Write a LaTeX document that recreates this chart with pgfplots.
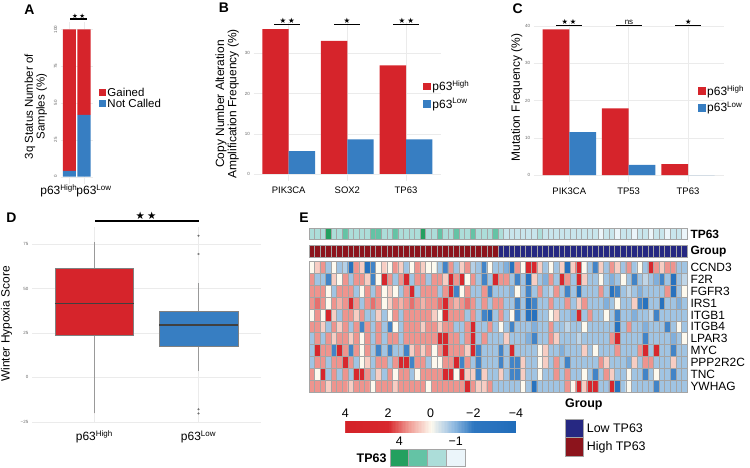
\documentclass[border=0pt]{standalone}
\usepackage{pgfplots}
\pgfplotsset{compat=1.18}
\usepgfplotslibrary{statistics}
\usepackage{fontspec}
\setmainfont{Liberation Sans}
\newfontfamily\symf{DejaVu Sans}
\definecolor{cRed}{RGB}{214,36,43}
\definecolor{cBlue}{RGB}{55,126,194}
\definecolor{gRed}{RGB}{140,20,28}
\definecolor{gBlue}{RGB}{38,40,130}
\definecolor{t0}{RGB}{235,245,250}
\definecolor{t1}{RGB}{200,229,236}
\definecolor{t2}{RGB}{172,221,217}
\definecolor{t3}{RGB}{100,195,165}
\definecolor{t4}{RGB}{35,160,95}
\definecolor{cellgrid}{RGB}{165,165,165}
\newcommand{\fs}[1]{\fontsize{#1}{#1}\selectfont}
\pgfplotsset{
  panel/.style={scale only axis, anchor=south west, axis line style={draw=none},
    major tick length=0pt, grid=major, grid style={black!8, line width=0.4pt},
    yticklabel style={font=\fs{4.5}, text=black!60},
    xticklabel style={font=\fs{9.5}, yshift=-2bp},
    /pgf/number format/assume math mode=true, clip=false,
    legend cell align=left},
  hrow/.style={scale only axis, anchor=south west, width=378bp,
    xmin=-0.5, xmax=67.5, xtick={-0.5,0.5,...,67.5}, xticklabels={}, ytick=\empty,
    major tick length=0pt, xmajorgrids, grid style={cellgrid, line width=0.6bp},
    axis line style={cellgrid, line width=0.6bp}, axis on top,
    yticklabel pos=right,
    extra y tick style={major tick length=0pt, yticklabel style={font=\bfseries\fs{12}}}},
}
\begin{document}
\begin{tikzpicture}
\path[use as bounding box] (0,0) rectangle (750bp,468bp);

% ---------------- Panel A ----------------
\begin{axis}[panel, at={(60.6bp,283.9bp)}, width=32.2bp, height=162.2bp,
  xmin=0.4, xmax=2.6, ymin=-5, ymax=105, xtick={1,2}, xticklabels={},
  ytick={0,25,50,75,100}, yticklabel style={rotate=90, anchor=south},
  ybar stacked, bar width=0.9, reverse legend,
  legend style={draw=none, fill=none, inner sep=0pt, outer sep=0pt, row sep=1.4bp, column sep=1.5bp,
    font=\fs{11.5}, at={(axis description cs:1.183,0.5968)}, anchor=north west,
    nodes={inner sep=0pt, text height=9bp, text depth=1bp}}]
\addplot[fill=cBlue, draw=none, legend image code/.code={\fill[cBlue] (0bp,-3.65bp) rectangle (7.3bp,3.65bp);}] coordinates {(1,4) (2,42)};
\addlegendentry{Not Called}
\addplot[fill=cRed, draw=none, legend image code/.code={\fill[cRed] (0bp,-3.65bp) rectangle (7.3bp,3.65bp);}] coordinates {(1,96) (2,58)};
\addlegendentry{Gained}
\end{axis}
\node[rotate=90, align=center, inner sep=0pt, font=\fontsize{11.5}{10.5}\selectfont] at (35.8bp,361.3bp) {3q Status Number of\\Samples (\%)};
\node[font=\fs{12}] at (58.8bp,277bp) {p63\textsuperscript{High}};
\node[font=\fs{12}] at (94bp,277bp) {p63\textsuperscript{Low}};
\draw[line width=1.2bp] (70bp,449bp) -- (87.3bp,449bp);
\node[font=\symf\fs{6.5}, anchor=base, inner sep=0pt] at (78.7bp,449.9bp) {★\hspace{1.5bp}★};

% ---------------- Panel B ----------------
\begin{axis}[panel, at={(253.5bp,286.8bp)}, width=187.7bp, height=159.2bp,
  xmin=0.4, xmax=3.6, ymin=-1.8, ymax=37.8, xtick={1,2,3}, xticklabels={PIK3CA,SOX2,TP63},
  ytick={0,10,20,30},
  legend style={draw=none, fill=none, inner sep=0pt, outer sep=0pt, row sep=6bp, column sep=1.5bp,
    font=\fs{12}, at={(axis description cs:0.9046,0.6322)}, anchor=north west,
    nodes={inner sep=0pt, text height=10bp, text depth=1.5bp}}]
\addplot[ybar, bar width=0.45, bar shift=-0.225, fill=cRed, draw=none, legend image code/.code={\fill[cRed] (0bp,-3.8bp) rectangle (7.7bp,3.8bp);}] coordinates {(1,36.0) (2,33.1) (3,27.0)};
\addlegendentry{p63\textsuperscript{High}}
\addplot[ybar, bar width=0.45, bar shift=0.225, fill=cBlue, draw=none, legend image code/.code={\fill[cBlue] (0bp,-3.8bp) rectangle (7.7bp,3.8bp);}] coordinates {(1,5.7) (2,8.6) (3,8.6)};
\addlegendentry{p63\textsuperscript{Low}}
\end{axis}
\node[rotate=90, align=center, inner sep=0pt, font=\fontsize{12}{11}\selectfont] at (227.2bp,364bp) {Copy Number Alteration\\Amplification Frequency (\%)};
\draw[line width=1.2bp] (274.3bp,443.7bp) -- (300bp,443.7bp);
\draw[line width=1.2bp] (334bp,443.7bp) -- (360bp,443.7bp);
\draw[line width=1.2bp] (393.3bp,443.7bp) -- (419.3bp,443.7bp);
\node[font=\symf\fs{7.5}, anchor=base, inner sep=0pt] at (287.2bp,444.8bp) {★\hspace{2bp}★};
\node[font=\symf\fs{7.5}, anchor=base, inner sep=0pt] at (347bp,444.8bp) {★};
\node[font=\symf\fs{7.5}, anchor=base, inner sep=0pt] at (406.3bp,444.8bp) {★\hspace{2bp}★};

% ---------------- Panel C ----------------
\begin{axis}[panel, at={(533.7bp,285.7bp)}, width=189.9bp, height=160bp,
  xmin=0.4, xmax=3.6, ymin=-1.95, ymax=41, xtick={1,2,3}, xticklabels={PIK3CA,TP53,TP63},
  ytick={0,10,20,30,40},
  legend style={draw=none, fill=none, inner sep=0pt, outer sep=0pt, row sep=5bp, column sep=1.5bp,
    font=\fs{12}, at={(axis description cs:0.8668,0.6053)}, anchor=north west,
    nodes={inner sep=0pt, text height=10bp, text depth=1.5bp}}]
\addplot[ybar, bar width=0.45, bar shift=-0.225, fill=cRed, draw=none, legend image code/.code={\fill[cRed] (0bp,-3.8bp) rectangle (7.4bp,3.8bp);}] coordinates {(1,39.1) (2,17.9) (3,2.9)};
\addlegendentry{p63\textsuperscript{High}}
\addplot[ybar, bar width=0.45, bar shift=0.225, fill=cBlue, draw=none, legend image code/.code={\fill[cBlue] (0bp,-3.8bp) rectangle (7.4bp,3.8bp);}] coordinates {(1,11.5) (2,2.7) (3,0)};
\addlegendentry{p63\textsuperscript{Low}}
\end{axis}
\node[rotate=90, inner sep=0pt, font=\fs{12}] at (516.7bp,370.5bp) {Mutation Frequency (\%)};
\draw[line width=1.2bp] (556bp,442.3bp) -- (582bp,442.3bp);
\draw[line width=1.2bp] (616bp,442.3bp) -- (642bp,442.3bp);
\draw[line width=1.2bp] (675.3bp,442.3bp) -- (701.3bp,442.3bp);
\node[font=\symf\fs{7.2}, anchor=base, inner sep=0pt] at (569bp,443.5bp) {★\hspace{2bp}★};
\node[font=\fs{8}, anchor=base, inner sep=0pt] at (629bp,443.3bp) {ns};
\node[font=\symf\fs{7.2}, anchor=base, inner sep=0pt] at (688.3bp,443.5bp) {★};

% ---------------- Panel D ----------------
\begin{axis}[panel, at={(31.8bp,45.7bp)}, width=229.2bp, height=195.5bp,
  xmin=0.4, xmax=2.6, ymin=-25.3, ymax=84.7, xtick={1,2},
  xticklabels={p63\textsuperscript{High},p63\textsuperscript{Low}},
  xticklabel style={font=\fs{12}, yshift=-3bp},
  ytick={-25,0,25,50,75}, yticklabels={−25,0,25,50,75}]
\addplot[fill=cRed, draw=black!50, line width=0.5bp,
  boxplot prepared={draw direction=y, draw position=1, lower whisker=-20.3, lower quartile=23.6, median=41.6,
    upper quartile=61.3, upper whisker=76, box extend=0.755, whisker extend=0,
    every median/.style={draw=black!75, line width=1.2bp},
    every whisker/.style={draw=black!40}}] coordinates {};
\addplot[fill=cBlue, draw=black!50, line width=0.5bp, mark=*, mark size=0.8bp,
  mark options={fill=black!85, draw=none},
  boxplot prepared={draw direction=y, draw position=2, lower whisker=3.5, lower quartile=17.6, median=29.4,
    upper quartile=37.3, upper whisker=53.2, box extend=0.755, whisker extend=0,
    every median/.style={draw=black!75, line width=1.2bp},
    every whisker/.style={draw=black!40}}]
  table[row sep=\\, y index=0] {y\\ 79.7\\ 69.4\\ -18\\ -20.3\\};
\end{axis}
\node[rotate=90, inner sep=0pt, font=\fs{12}] at (6.5bp,144bp) {Winter Hypoxia Score};
\draw[line width=1.8bp] (95bp,247bp) -- (198.5bp,247bp);
\node[font=\symf\fs{10.4}, anchor=base, inner sep=0pt] at (146bp,248.3bp) {★\hspace{2.3bp}★};

% ---------------- Panel E ----------------
% TP63 annotation row
\begin{axis}[hrow, at={(309bp,228.3bp)}, height=11bp, ymin=0, ymax=1,
  extra y ticks={0.5}, extra y tick labels={TP63}]
\addplot[ybar, bar width=1, bar shift=0, fill=t4, draw=none] coordinates {(3,1) (20,1)};
\addplot[ybar, bar width=1, bar shift=0, fill=t3, draw=none] coordinates {(6,1) (11,1) (12,1) (15,1) (23,1) (26,1) (29,1) (33,1)};
\addplot[ybar, bar width=1, bar shift=0, fill=t2, draw=none] coordinates {(0,1) (1,1) (2,1) (4,1) (5,1) (7,1) (8,1) (9,1) (10,1) (13,1) (14,1) (16,1) (17,1) (18,1) (19,1) (21,1) (22,1) (24,1) (25,1) (27,1) (28,1) (30,1) (31,1) (32,1) (34,1) (41,1)};
\addplot[ybar, bar width=1, bar shift=0, fill=t1, draw=none] coordinates {(35,1) (36,1) (37,1) (38,1) (39,1) (40,1) (42,1) (43,1) (44,1) (45,1) (46,1) (47,1) (48,1) (49,1) (50,1) (51,1) (53,1) (54,1) (56,1) (57,1) (59,1) (60,1) (62,1) (63,1) (65,1) (66,1)};
\addplot[ybar, bar width=1, bar shift=0, fill=t0, draw=none] coordinates {(52,1) (55,1) (58,1) (61,1) (64,1) (67,1)};
\end{axis}
% Group annotation row
\begin{axis}[hrow, at={(309bp,210.7bp)}, height=12bp, ymin=0, ymax=1,
  extra y ticks={0.5}, extra y tick labels={Group}]
\addplot[fill=gRed, draw=none] coordinates {(-0.5,1) (33.5,1)} \closedcycle;
\addplot[fill=gBlue, draw=none] coordinates {(33.5,1) (67.5,1)} \closedcycle;
\end{axis}
% main heatmap
\begin{axis}[scale only axis, anchor=south west, at={(309bp,75.7bp)}, width=378bp, height=131bp,
  xmin=-0.5, xmax=67.5, ymin=-0.5, ymax=10.5, y dir=reverse,
  xtick={-0.5,0.5,...,67.5}, ytick={-0.5,0.5,...,10.5}, xticklabels={}, yticklabels={},
  grid=major, grid style={cellgrid, line width=0.6bp}, major tick length=0pt,
  axis line style={cellgrid, line width=0.6bp}, axis on top,
  extra y ticks={0,1,2,3,4,5,6,7,8,9,10},
  extra y tick labels={CCND3,F2R,FGFR3,IRS1,ITGB1,ITGB4,LPAR3,MYC,PPP2R2C,TNC,YWHAG},
  extra y tick style={grid=none, major tick length=0pt, yticklabel style={font=\fs{12}}},
  yticklabel pos=right,
  colormap={hm}{rgb255=(31,108,186) rgb255=(40,114,190) rgb255=(45,118,192) rgb255=(150,190,226) rgb255=(253,249,238) rgb255=(240,160,152) rgb255=(216,40,46) rgb255=(214,37,43) rgb255=(212,34,40)},
  point meta min=-4, point meta max=4,
  colorbar horizontal, colorbar sampled,
  colorbar style={at={(parent axis.south west)}, anchor=north west, xshift=36.3bp, yshift=-20bp,
     scale only axis, width=170.7bp, height=12bp, x dir=reverse, samples=120,
     xtick={-4,-2,0,2,4}, xticklabels={−4,−2,0,2,4}, xticklabel pos=upper,
     xticklabel style={font=\fs{12.5}}, major tick length=0pt, axis line style={draw=none}, ytick=\empty}]
\addplot[matrix plot*, mesh/cols=68, point meta=explicit] table[row sep=\\, meta=c] {x y c\\
0 0 0\\1 0 0.5\\2 0 1.1\\3 0 -0.9\\4 0 0\\5 0 -0.9\\6 0 -0.7\\7 0 -3\\8 0 1.1\\9 0 0.5\\10 0 -3\\11 0 -1.8\\12 0 0\\13 0 0.5\\14 0 0\\15 0 1.1\\16 0 0.5\\17 0 -0.9\\18 0 0\\19 0 1.1\\20 0 0.5\\21 0 0\\22 0 0\\23 0 -0.9\\24 0 -1.8\\25 0 1.1\\26 0 -0.9\\27 0 0.5\\28 0 1.1\\29 0 -0.7\\30 0 -0.9\\31 0 -1.8\\32 0 0\\33 0 -0.9\\34 0 -0.9\\35 0 -1.2\\36 0 -3\\37 0 1.1\\38 0 0\\39 0 2.5\\40 0 2.5\\41 0 0.5\\42 0 -0.9\\43 0 0\\44 0 -0.9\\45 0 0.5\\46 0 -3\\47 0 0.5\\48 0 2.5\\49 0 0\\50 0 -0.9\\51 0 -1.8\\52 0 0.5\\53 0 -0.9\\54 0 1.1\\55 0 0.5\\56 0 -0.9\\57 0 1.1\\58 0 -0.9\\59 0 0\\60 0 -0.9\\61 0 2.5\\62 0 1.1\\63 0 0.5\\64 0 1.1\\65 0 1.1\\66 0 -0.9\\67 0 -0.9\\
0 1 1.1\\1 1 -0.9\\2 1 -0.9\\3 1 -1.8\\4 1 0.5\\5 1 0\\6 1 1.1\\7 1 -0.9\\8 1 1.1\\9 1 1.1\\10 1 0.5\\11 1 -1.8\\12 1 0\\13 1 2.5\\14 1 1.1\\15 1 -0.9\\16 1 1.1\\17 1 2.5\\18 1 -0.9\\19 1 1.1\\20 1 1.1\\21 1 -0.9\\22 1 1.1\\23 1 1.1\\24 1 0.5\\25 1 2.5\\26 1 1.1\\27 1 2.5\\28 1 0\\29 1 1.1\\30 1 -0.9\\31 1 -1.8\\32 1 -0.9\\33 1 2.5\\34 1 1.1\\35 1 1.1\\36 1 -0.9\\37 1 -1.8\\38 1 -0.9\\39 1 -3\\40 1 0.5\\41 1 -0.9\\42 1 -1.2\\43 1 1.1\\44 1 -0.9\\45 1 2.5\\46 1 1.1\\47 1 -0.9\\48 1 2.5\\49 1 0.5\\50 1 -0.9\\51 1 -0.9\\52 1 0\\53 1 -0.9\\54 1 -1.2\\55 1 -0.9\\56 1 0\\57 1 -0.9\\58 1 -1.8\\59 1 -0.9\\60 1 -0.6\\61 1 -0.9\\62 1 -1.2\\63 1 -1.8\\64 1 -0.9\\65 1 -3\\66 1 -0.9\\67 1 -0.6\\
0 2 1.1\\1 2 1.1\\2 2 1.1\\3 2 0\\4 2 -0.9\\5 2 1.1\\6 2 1.1\\7 2 1.1\\8 2 -0.9\\9 2 0\\10 2 1.1\\11 2 -0.9\\12 2 1.1\\13 2 0\\14 2 0.5\\15 2 0\\16 2 -0.9\\17 2 1.1\\18 2 2.5\\19 2 -0.9\\20 2 1.1\\21 2 1.1\\22 2 1.1\\23 2 -0.9\\24 2 1.1\\25 2 2.5\\26 2 -1.8\\27 2 0\\28 2 1.1\\29 2 -0.9\\30 2 -0.9\\31 2 1.1\\32 2 -1.8\\33 2 -0.9\\34 2 -0.9\\35 2 -0.9\\36 2 -1.2\\37 2 0\\38 2 -0.9\\39 2 -1.8\\40 2 -0.9\\41 2 1.1\\42 2 -0.9\\43 2 -0.6\\44 2 1.1\\45 2 -0.9\\46 2 -1.8\\47 2 -0.9\\48 2 -3\\49 2 -0.9\\50 2 -0.9\\51 2 -0.9\\52 2 1.1\\53 2 -0.9\\54 2 -3\\55 2 -1.8\\56 2 -0.9\\57 2 -0.6\\58 2 -0.9\\59 2 -1.2\\60 2 -0.9\\61 2 -0.9\\62 2 -0.9\\63 2 -0.9\\64 2 1.1\\65 2 -3\\66 2 -0.9\\67 2 0\\
0 3 1.1\\1 3 1.4\\2 3 1.1\\3 3 0\\4 3 1.1\\5 3 0.8\\6 3 1.1\\7 3 2.5\\8 3 1.1\\9 3 -0.9\\10 3 1.1\\11 3 1.4\\12 3 1.1\\13 3 0\\14 3 0.5\\15 3 1.1\\16 3 0.8\\17 3 1.1\\18 3 1.4\\19 3 1.1\\20 3 0.8\\21 3 1.1\\22 3 1.1\\23 3 1.4\\24 3 2.5\\25 3 1.1\\26 3 0.8\\27 3 1.1\\28 3 1.4\\29 3 1.1\\30 3 -0.9\\31 3 1.1\\32 3 -0.9\\33 3 1.1\\34 3 1.1\\35 3 -0.9\\36 3 -0.9\\37 3 -1.8\\38 3 -0.9\\39 3 -3\\40 3 -1.8\\41 3 -0.9\\42 3 -0.9\\43 3 1.1\\44 3 -0.9\\45 3 -0.9\\46 3 1.1\\47 3 -0.9\\48 3 0.5\\49 3 1.1\\50 3 -0.9\\51 3 -0.9\\52 3 -0.9\\53 3 -1.2\\54 3 -0.9\\55 3 0\\56 3 -0.9\\57 3 -0.9\\58 3 0.5\\59 3 -1.8\\60 3 -3\\61 3 -0.9\\62 3 -0.9\\63 3 -3\\64 3 -0.9\\65 3 -0.9\\66 3 -1.2\\67 3 -0.9\\
0 4 0\\1 4 1.1\\2 4 0\\3 4 2.5\\4 4 0.5\\5 4 -0.9\\6 4 1.1\\7 4 1.1\\8 4 0.5\\9 4 1.1\\10 4 -0.9\\11 4 -0.9\\12 4 0.5\\13 4 -0.9\\14 4 0\\15 4 1.1\\16 4 -0.9\\17 4 1.1\\18 4 1.1\\19 4 1.1\\20 4 1.1\\21 4 1.1\\22 4 0.5\\23 4 0\\24 4 2.5\\25 4 1.1\\26 4 1.1\\27 4 1.1\\28 4 -0.9\\29 4 1.1\\30 4 -0.9\\31 4 -1.8\\32 4 -3\\33 4 -0.9\\34 4 1.1\\35 4 -0.9\\36 4 0\\37 4 -1.8\\38 4 -0.9\\39 4 -3\\40 4 -3\\41 4 -0.9\\42 4 -0.9\\43 4 0\\44 4 0.5\\45 4 -0.9\\46 4 -0.9\\47 4 -1.2\\48 4 2.5\\49 4 -0.9\\50 4 1.1\\51 4 -0.9\\52 4 -0.9\\53 4 0\\54 4 -0.9\\55 4 -1.8\\56 4 -0.9\\57 4 -0.9\\58 4 -1.2\\59 4 -0.9\\60 4 -0.9\\61 4 -0.6\\62 4 -1.8\\63 4 -0.9\\64 4 -0.9\\65 4 -0.9\\66 4 -0.9\\67 4 -0.9\\
0 5 1.1\\1 5 1.1\\2 5 0.5\\3 5 -0.9\\4 5 1.1\\5 5 0.5\\6 5 1.1\\7 5 -0.9\\8 5 1.1\\9 5 -1.8\\10 5 1.1\\11 5 -0.9\\12 5 1.1\\13 5 -0.9\\14 5 -1.8\\15 5 0\\16 5 -0.9\\17 5 1.1\\18 5 1.1\\19 5 1.1\\20 5 0.5\\21 5 1.1\\22 5 1.1\\23 5 0.5\\24 5 1.1\\25 5 1.1\\26 5 -0.9\\27 5 -0.9\\28 5 1.1\\29 5 2.5\\30 5 -0.9\\31 5 -0.9\\32 5 1.1\\33 5 -0.9\\34 5 0\\35 5 -0.9\\36 5 -1.8\\37 5 -0.9\\38 5 -0.9\\39 5 -0.9\\40 5 -1.2\\41 5 -0.9\\42 5 -0.9\\43 5 1.1\\44 5 -0.9\\45 5 -0.9\\46 5 -0.6\\47 5 -0.9\\48 5 -0.9\\49 5 0\\50 5 -0.9\\51 5 -0.9\\52 5 -0.9\\53 5 -0.9\\54 5 -0.9\\55 5 -3\\56 5 -0.9\\57 5 1.1\\58 5 -0.9\\59 5 -0.9\\60 5 -1.2\\61 5 -0.9\\62 5 -0.9\\63 5 -0.9\\64 5 -1.8\\65 5 -0.9\\66 5 0\\67 5 -0.9\\
0 6 -0.9\\1 6 1.1\\2 6 -0.9\\3 6 1.1\\4 6 0.5\\5 6 1.1\\6 6 1.1\\7 6 0.5\\8 6 1.1\\9 6 0\\10 6 1.1\\11 6 -0.9\\12 6 1.1\\13 6 -0.9\\14 6 1.1\\15 6 1.1\\16 6 -0.9\\17 6 1.1\\18 6 1.1\\19 6 1.1\\20 6 1.1\\21 6 1.1\\22 6 1.1\\23 6 2.5\\24 6 2.5\\25 6 1.1\\26 6 1.1\\27 6 -0.9\\28 6 1.1\\29 6 2.5\\30 6 -0.9\\31 6 1.1\\32 6 -0.9\\33 6 -0.9\\34 6 -0.9\\35 6 0.5\\36 6 -0.9\\37 6 -0.9\\38 6 -0.9\\39 6 -1.2\\40 6 -1.8\\41 6 -0.9\\42 6 -0.9\\43 6 1.1\\44 6 0.5\\45 6 -0.9\\46 6 -0.9\\47 6 -0.9\\48 6 -0.6\\49 6 -0.9\\50 6 -0.9\\51 6 -0.9\\52 6 -0.9\\53 6 -0.9\\54 6 1.1\\55 6 2.5\\56 6 -0.9\\57 6 -0.9\\58 6 -0.9\\59 6 -0.9\\60 6 -1.8\\61 6 -0.9\\62 6 -0.9\\63 6 -0.9\\64 6 -0.9\\65 6 -1.2\\66 6 -0.9\\67 6 0\\
0 7 -0.9\\1 7 2.5\\2 7 1.1\\3 7 1.1\\4 7 -1.8\\5 7 2.5\\6 7 1.1\\7 7 -1.8\\8 7 1.1\\9 7 0\\10 7 1.1\\11 7 -0.9\\12 7 -1.8\\13 7 -0.9\\14 7 -1.8\\15 7 -0.9\\16 7 -0.9\\17 7 -1.8\\18 7 0.5\\19 7 1.1\\20 7 0.5\\21 7 1.1\\22 7 0\\23 7 1.1\\24 7 2.5\\25 7 1.1\\26 7 1.1\\27 7 1.1\\28 7 0.5\\29 7 2.5\\30 7 -1.8\\31 7 -0.9\\32 7 -0.9\\33 7 -0.9\\34 7 -1.8\\35 7 -0.9\\36 7 2.5\\37 7 -0.9\\38 7 -0.9\\39 7 -0.9\\40 7 -0.9\\41 7 0\\42 7 0.5\\43 7 -0.9\\44 7 -0.9\\45 7 -1.2\\46 7 -0.9\\47 7 -0.9\\48 7 -0.9\\49 7 0.5\\50 7 -0.9\\51 7 0\\52 7 -0.9\\53 7 -0.9\\54 7 -0.9\\55 7 1.1\\56 7 -0.9\\57 7 -0.9\\58 7 -0.9\\59 7 1.1\\60 7 2.5\\61 7 -0.9\\62 7 2.5\\63 7 -0.9\\64 7 -0.9\\65 7 -1.8\\66 7 -0.9\\67 7 -0.9\\
0 8 -0.9\\1 8 1.1\\2 8 1.1\\3 8 -0.9\\4 8 1.1\\5 8 1.1\\6 8 2.5\\7 8 1.1\\8 8 -0.9\\9 8 0\\10 8 0.5\\11 8 -0.9\\12 8 1.1\\13 8 1.1\\14 8 -0.9\\15 8 1.1\\16 8 2.5\\17 8 2.5\\18 8 -1.8\\19 8 1.1\\20 8 1.1\\21 8 -0.9\\22 8 0\\23 8 0\\24 8 1.1\\25 8 1.1\\26 8 2.5\\27 8 -1.8\\28 8 1.1\\29 8 -0.9\\30 8 -1.8\\31 8 -0.9\\32 8 -0.9\\33 8 -0.9\\34 8 -1.8\\35 8 -0.9\\36 8 -1.8\\37 8 -1.8\\38 8 0.5\\39 8 -0.9\\40 8 -0.9\\41 8 0\\42 8 0.5\\43 8 -0.9\\44 8 1.1\\45 8 -0.9\\46 8 -1.8\\47 8 -0.9\\48 8 -0.9\\49 8 -0.9\\50 8 -0.9\\51 8 -0.9\\52 8 1.1\\53 8 0.5\\54 8 -0.9\\55 8 -0.9\\56 8 -0.9\\57 8 -1.2\\58 8 0.5\\59 8 -0.9\\60 8 1.1\\61 8 1.1\\62 8 -0.9\\63 8 -0.9\\64 8 -0.9\\65 8 0.5\\66 8 -0.9\\67 8 -0.9\\
0 9 1.1\\1 9 0\\2 9 2.5\\3 9 -0.9\\4 9 1.1\\5 9 -0.9\\6 9 1.1\\7 9 -0.9\\8 9 2.5\\9 9 2.5\\10 9 1.1\\11 9 -0.9\\12 9 0.5\\13 9 -0.9\\14 9 1.1\\15 9 0\\16 9 1.1\\17 9 1.1\\18 9 -0.9\\19 9 0\\20 9 1.1\\21 9 1.1\\22 9 1.1\\23 9 1.1\\24 9 2.5\\25 9 2.5\\26 9 0\\27 9 2.5\\28 9 0.5\\29 9 0.5\\30 9 -1.8\\31 9 0.5\\32 9 -0.9\\33 9 -0.9\\34 9 0.5\\35 9 -0.9\\36 9 -1.8\\37 9 -1.8\\38 9 0.5\\39 9 -0.9\\40 9 -0.9\\41 9 0\\42 9 -0.9\\43 9 -0.9\\44 9 1.1\\45 9 -0.9\\46 9 1.1\\47 9 -0.9\\48 9 -0.9\\49 9 0\\50 9 -0.9\\51 9 -1.8\\52 9 -0.9\\53 9 1.1\\54 9 0.5\\55 9 -0.9\\56 9 -0.9\\57 9 0\\58 9 -0.9\\59 9 -0.9\\60 9 -1.8\\61 9 -0.9\\62 9 0\\63 9 -0.9\\64 9 -0.9\\65 9 -1.8\\66 9 -0.9\\67 9 -0.9\\
0 10 1.1\\1 10 1.1\\2 10 1.1\\3 10 0.5\\4 10 1.1\\5 10 1.1\\6 10 1.1\\7 10 0.5\\8 10 1.1\\9 10 1.1\\10 10 1.1\\11 10 0\\12 10 1.1\\13 10 1.1\\14 10 1.1\\15 10 0.5\\16 10 1.1\\17 10 1.1\\18 10 1.1\\19 10 1.1\\20 10 1.1\\21 10 0\\22 10 1.1\\23 10 1.1\\24 10 1.1\\25 10 1.1\\26 10 1.1\\27 10 1.1\\28 10 2.5\\29 10 1.1\\30 10 0.5\\31 10 0.5\\32 10 1.1\\33 10 -0.9\\34 10 -0.9\\35 10 -0.9\\36 10 -0.9\\37 10 -0.9\\38 10 0\\39 10 -0.9\\40 10 -3\\41 10 -0.9\\42 10 -0.9\\43 10 -0.9\\44 10 -0.9\\45 10 -0.9\\46 10 1.1\\47 10 0\\48 10 2.5\\49 10 0.5\\50 10 2.5\\51 10 2.5\\52 10 -0.9\\53 10 -0.9\\54 10 2.5\\55 10 -3\\56 10 -0.9\\57 10 0\\58 10 -0.9\\59 10 -0.9\\60 10 -0.9\\61 10 -0.9\\62 10 -1.8\\63 10 -0.9\\64 10 -0.9\\65 10 -0.9\\66 10 -0.9\\67 10 -0.9\\
};
\end{axis}
% Group legend
\begin{axis}[scale only axis, anchor=south west, at={(565bp,12bp)}, width=18.3bp, height=36.7bp,
  xmin=-0.5, xmax=0.5, ymin=0, ymax=2, xtick=\empty, ytick={0.5,1.5}, yticklabels={High TP63,Low TP63},
  yticklabel pos=right, yticklabel style={font=\fs{12.5}}, major tick length=0pt,
  axis line style={cellgrid, line width=0.6bp}, axis on top,
  extra y ticks={1}, extra y tick labels={}, extra y tick style={grid=major, grid style={cellgrid, line width=0.6bp}},
  title={Group}, title style={at={(0,1)}, anchor=south west, font=\bfseries\fs{12.5}, inner sep=0pt, yshift=2.7bp}]
\addplot[ybar, bar width=1, bar shift=0, fill=gBlue, draw=none] coordinates {(0,2)};
\addplot[ybar, bar width=1, bar shift=0, fill=gRed, draw=none] coordinates {(0,1)};
\end{axis}
% TP63 legend
\begin{axis}[scale only axis, anchor=south west, at={(390bp,1.3bp)}, width=75bp, height=17.7bp,
  xmin=-0.5, xmax=3.5, ymin=0, ymax=1, xtick={0,3}, xticklabels={4,−1}, xticklabel pos=upper,
  xticklabel style={font=\fs{12.5}}, ytick={0.5}, yticklabels={TP63}, yticklabel style={font=\bfseries\fs{12.5}},
  major tick length=0pt, axis line style={cellgrid, line width=0.6bp}, axis on top,
  extra x ticks={0.5,1.5,2.5}, extra x tick labels={}, extra x tick style={grid=major, grid style={cellgrid, line width=0.6bp}}]
\addplot[ybar, bar width=1, bar shift=0, fill=t4, draw=none] coordinates {(0,1)};
\addplot[ybar, bar width=1, bar shift=0, fill=t3, draw=none] coordinates {(1,1)};
\addplot[ybar, bar width=1, bar shift=0, fill=t2, draw=none] coordinates {(2,1)};
\addplot[ybar, bar width=1, bar shift=0, fill=t0, draw=none] coordinates {(3,1)};
\end{axis}

% panel letters
\node[font=\bfseries\fs{14}] at (29.5bp,458bp) {A};
\node[font=\bfseries\fs{14}] at (224bp,460.3bp) {B};
\node[font=\bfseries\fs{14}] at (517.7bp,459bp) {C};
\node[font=\bfseries\fs{14}] at (11.5bp,250.5bp) {D};
\node[font=\bfseries\fs{14}] at (304bp,250.5bp) {E};
\end{tikzpicture}
\end{document}
